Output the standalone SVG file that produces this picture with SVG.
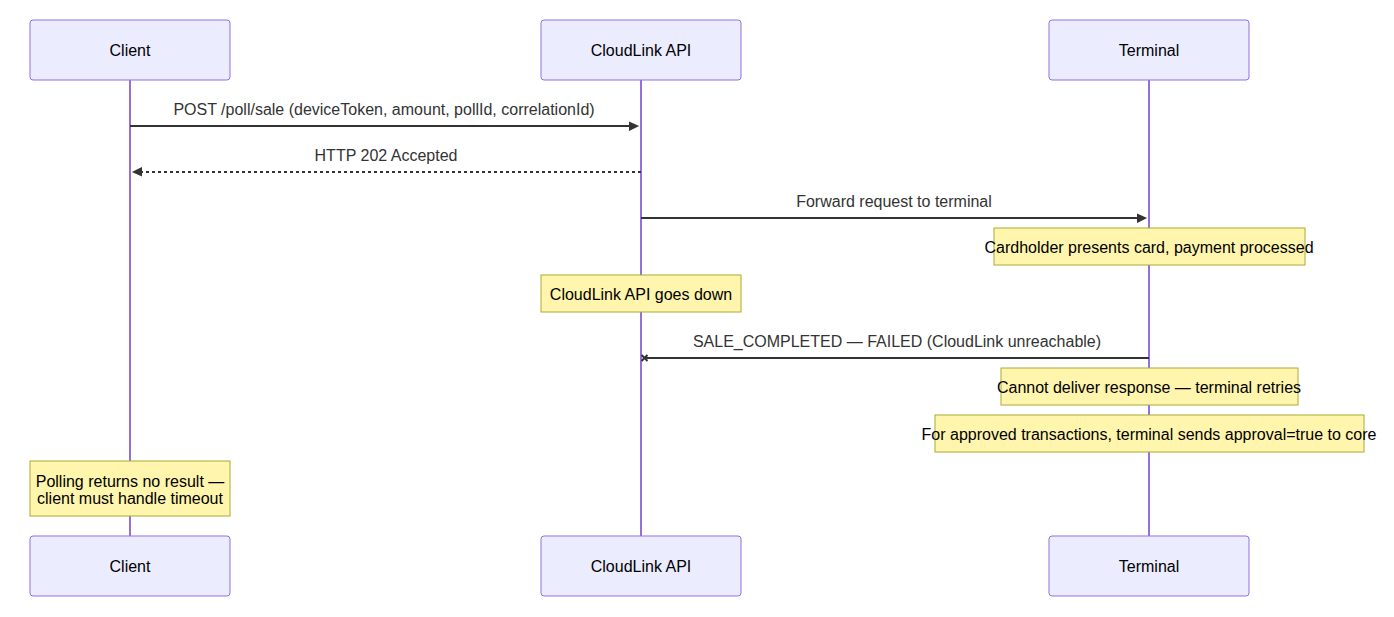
<svg xmlns="http://www.w3.org/2000/svg" width="1394" height="617" viewBox="0 0 1394 617">
<style>
.actor{fill:#ECECFF;stroke:#9370DB;stroke-width:1;}
.atext{font-family:"Liberation Sans",Arial,sans-serif;font-size:16px;fill:#000;text-anchor:middle;dominant-baseline:central;}
.life{stroke:#9370DB;stroke-width:2;fill:none;}
.msg{stroke:#333;stroke-width:2;fill:none;}
.dash{stroke-dasharray:3,3;}
.mtext{font-family:"Liberation Sans",Arial,sans-serif;font-size:16px;fill:#333;text-anchor:middle;}
.note{fill:#fff5ad;stroke:#aaaa33;stroke-width:1;}
.ntext{font-family:"Liberation Sans",Arial,sans-serif;font-size:16px;fill:#000;text-anchor:middle;dominant-baseline:central;}
</style>
<defs>
<marker id="arrow" viewBox="0 0 12 12" refX="7.9" refY="5" markerWidth="12" markerHeight="12" markerUnits="userSpaceOnUse" orient="auto">
<path d="M -1 0 L 10 5 L 0 10 z" fill="#333" stroke="none"/>
</marker>
<marker id="cross" viewBox="0 0 10 10" refX="3.5" refY="5" markerWidth="10" markerHeight="10" markerUnits="userSpaceOnUse" orient="auto">
<path d="M 1,2 L 7,8 M 7,2 L 1,8" stroke="#333" stroke-width="2" fill="none"/>
</marker>
</defs>
<g id="lifelines">
<line class="life" x1="130" y1="80" x2="130" y2="536"/>
<line class="life" x1="641" y1="80" x2="641" y2="536"/>
<line class="life" x1="1149" y1="80" x2="1149" y2="536"/>
</g>
<g id="actor-client-top"><rect class="actor" x="30" y="20" width="200" height="60" rx="3"/><text class="atext" x="130" y="50">Client</text></g>
<g id="actor-api-top"><rect class="actor" x="541" y="20" width="200" height="60" rx="3"/><text class="atext" x="641" y="50">CloudLink API</text></g>
<g id="actor-terminal-top"><rect class="actor" x="1049" y="20" width="200" height="60" rx="3"/><text class="atext" x="1149" y="50">Terminal</text></g>
<g id="actor-client-bottom"><rect class="actor" x="30" y="536" width="200" height="60" rx="3"/><text class="atext" x="130" y="566">Client</text></g>
<g id="actor-api-bottom"><rect class="actor" x="541" y="536" width="200" height="60" rx="3"/><text class="atext" x="641" y="566">CloudLink API</text></g>
<g id="actor-terminal-bottom"><rect class="actor" x="1049" y="536" width="200" height="60" rx="3"/><text class="atext" x="1149" y="566">Terminal</text></g>
<g id="connectors">
<line class="msg" x1="130" y1="126" x2="637" y2="126" marker-end="url(#arrow)"/>
<text class="mtext" x="384" y="115">POST /poll/sale (deviceToken, amount, pollId, correlationId)</text>
<line class="msg dash" x1="641" y1="172" x2="134" y2="172" marker-end="url(#arrow)"/>
<text class="mtext" x="386" y="161">HTTP 202 Accepted</text>
<line class="msg" x1="641" y1="218" x2="1145" y2="218" marker-end="url(#arrow)"/>
<text class="mtext" x="894" y="207">Forward request to terminal</text>
<line class="msg" x1="1149" y1="358" x2="645" y2="358" marker-end="url(#cross)"/>
<text class="mtext" x="897" y="347">SALE_COMPLETED — FAILED (CloudLink unreachable)</text>
</g>
<g id="note-cardholder"><rect class="note" x="994" y="228" width="311" height="37"/><text class="ntext" x="1149" y="247">Cardholder presents card, payment processed</text></g>
<g id="note-down"><rect class="note" x="541" y="275" width="200" height="37"/><text class="ntext" x="641" y="294">CloudLink API goes down</text></g>
<g id="note-retries"><rect class="note" x="1001" y="368" width="297" height="37"/><text class="ntext" x="1149" y="387">Cannot deliver response — terminal retries</text></g>
<g id="note-approved"><rect class="note" x="935" y="415" width="429" height="37"/><text class="ntext" x="1149" y="434">For approved transactions, terminal sends approval=true to core</text></g>
<g id="note-polling"><rect class="note" x="30" y="461" width="200" height="55"/><text class="ntext" x="130" y="481">Polling returns no result —</text><text class="ntext" x="130" y="498">client must handle timeout</text></g>
</svg>
